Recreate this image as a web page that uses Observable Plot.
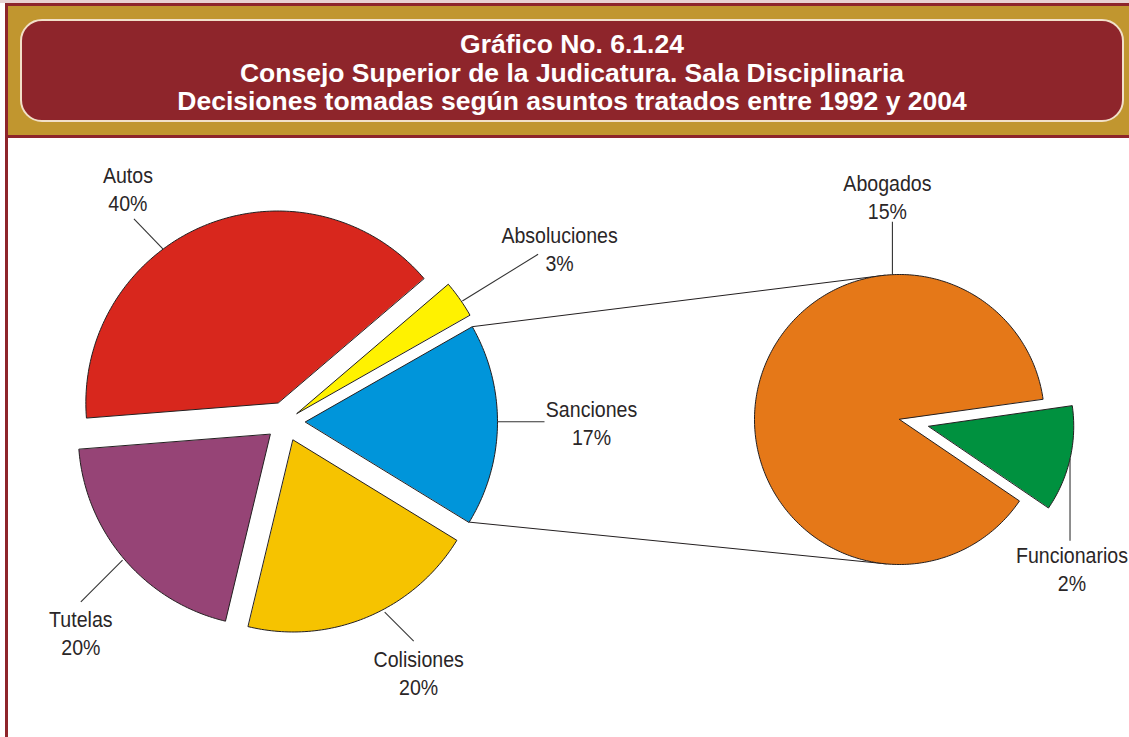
<!DOCTYPE html>
<html>
<head>
<meta charset="utf-8">
<script src="https://cdn.jsdelivr.net/npm/d3@7"></script>
<script src="https://cdn.jsdelivr.net/npm/@observablehq/plot@0.6"></script>
<style>
  html, body { margin: 0; padding: 0; background: #fff; }
  body { width: 1129px; height: 737px; position: relative; overflow: hidden; font-family: "Liberation Sans", Arial, sans-serif; }
  #topline { position: absolute; left: 0; top: 0; width: 1129px; height: 3px; background: #E8D2D2; }
  #header { position: absolute; left: 5px; top: 3px; width: 1124px; height: 135px; box-sizing: border-box;
            background: #C1962F; border-top: 3px solid #8E252B; border-left: 3px solid #8E252B; border-bottom: 3px solid #8E252B; }
  #titlebox { position: absolute; left: 12px; top: 13px; width: 1104px; height: 103px; box-sizing: border-box;
              background: #8E252B; border: 2px solid #F2E0C8; border-radius: 22px;
              color: #fff; font-weight: bold; font-size: 26.5px; line-height: 28.5px; text-align: center; padding-top: 9px; }
  #leftline { position: absolute; left: 5px; top: 138px; width: 3px; height: 599px; background: #8E252B; }
  #chart { position: absolute; left: 0; top: 138px; }
</style>
</head>
<body>
<div id="topline"></div>
<div id="header"><div id="titlebox">Gráfico No. 6.1.24<br>Consejo Superior de la Judicatura. Sala Disciplinaria<br>Decisiones tomadas según asuntos tratados entre 1992 y 2004</div></div>
<div id="leftline"></div>
<div id="chart"></div>
<script>
// ---- data ----
const leftNames = ["Autos", "Absoluciones", "Sanciones", "Colisiones", "Tutelas"];
const leftValues = [40, 3, 17, 20, 20];
const rightNames = ["Abogados", "Funcionarios"];
const rightValues = [15, 2];

// ---- styles ----
const leftColors = ["#D8271D", "#FFF200", "#0095DA", "#F6C300", "#964476"];
const rightColors = ["#E57818", "#00913F"];

// ---- layout (page pixel units) ----
const W = 1129, H = 599, TOP = 138;
const leftPie = {cx: 285, cy: 421, r: 192, start: 265.5, explode: [20, 14, 20, 20, 20], rExtra: [0, 7, 0, 0, 0]};
const rightPie = {cx: 899, cy: 419, r: 145, focus: 103, explode: [0, 30], rExtra: [0, 0]};
// leader: angle on arc, direction, length, label offset from leader end
const leftLeaders = [
  {at: 323.3, dir: 316, len: 42, dx: -6, dy: -30.5, rr: 0},
  {at: 55.8, dir: 58.3, len: 89, dx: 21.5, dy: -6, rr: 1},
  {at: 90, dir: 90, len: 47, dx: 47, dy: 0.5, rr: 0},
  {at: 152, dir: 135, len: 41, dx: 5, dy: 30.5, rr: 3},
  {at: 229.6, dir: 225, len: 59, dx: 0, dy: 30.5, rr: 2}
];
const rightLeaders = [
  {at: 357.2, dir: 0, len: 53, dx: -5, dy: -25.5, rr: 0},
  {at: 103, dir: 180, len: 82, dx: 2, dy: 27.5, rr: 0}
];
const connectorAngles = [354.4, 185];

const rad = d => d * Math.PI / 180;
const pt = (cx, cy, r, deg) => [cx + r * Math.sin(rad(deg)), cy - r * Math.cos(rad(deg))];

function buildPie(names, values, pie, startDeg) {
  const arcs = d3.pie().sort(null).startAngle(rad(startDeg)).endAngle(rad(startDeg + 360))(values);
  return arcs.map((a, i) => {
    const a0 = a.startAngle * 180 / Math.PI, a1 = a.endAngle * 180 / Math.PI;
    const mid = (a0 + a1) / 2;
    const [ox, oy] = pt(pie.cx, pie.cy, pie.explode[i], mid);
    const r = pie.r + pie.rExtra[i];
    const pts = [{name: names[i], x: ox, y: oy}];
    const n = Math.max(2, Math.ceil(a1 - a0));
    for (let k = 0; k <= n; k++) {
      const [x, y] = pt(ox, oy, r, a0 + (a1 - a0) * k / n);
      pts.push({name: names[i], x, y});
    }
    return {name: names[i], value: values[i], a0, a1, ox, oy, r, pts};
  });
}

const leftSlices = buildPie(leftNames, leftValues, leftPie, leftPie.start);
const rightTotal = d3.sum(rightValues);
const rightStart = rightPie.focus - 360 * (rightValues[0] + rightValues[1] / 2) / rightTotal;
const rightSlices = buildPie(rightNames, rightValues, rightPie, rightStart);

const polyPoints = [...leftSlices, ...rightSlices].flatMap(s => s.pts);

function leaders(slices, specs) {
  return slices.map((s, i) => {
    const L = specs[i];
    const [x1, y1] = pt(s.ox, s.oy, s.r + L.rr, L.at);
    const [x2, y2] = pt(x1, y1, L.len, L.dir);
    return {x1, y1, x2, y2, lx: x2 + L.dx, ly: y2 + L.dy, text: s.name + "\n" + s.value + "%"};
  });
}
const leaderData = [...leaders(leftSlices, leftLeaders), ...leaders(rightSlices, rightLeaders)];

const sanc = leftSlices[2];
const connectors = [
  {p: pt(sanc.ox, sanc.oy, sanc.r, sanc.a0), q: pt(rightPie.cx, rightPie.cy, rightPie.r, connectorAngles[0])},
  {p: pt(sanc.ox, sanc.oy, sanc.r, sanc.a1), q: pt(rightPie.cx, rightPie.cy, rightPie.r, connectorAngles[1])}
].map(c => ({x1: c.p[0], y1: c.p[1], x2: c.q[0], y2: c.q[1]}));

const chart = Plot.plot({
  width: W, height: H,
  margin: 0,
  style: {background: "transparent", overflow: "visible"},
  x: {domain: [0, W], range: [0, W], axis: null},
  y: {domain: [TOP, TOP + H], range: [0, H], axis: null},
  color: {domain: [...leftNames, ...rightNames], range: [...leftColors, ...rightColors]},
  marks: [
    Plot.link(connectors, {x1: "x1", y1: "y1", x2: "x2", y2: "y2", stroke: "#231F20", strokeWidth: 1}),
    Plot.line(polyPoints, {x: "x", y: "y", z: "name", fill: "name", stroke: "#231F20", strokeWidth: 1, curve: "linear-closed", strokeLinejoin: "miter"}),
    Plot.link(leaderData, {x1: "x1", y1: "y1", x2: "x2", y2: "y2", stroke: "#333", strokeWidth: 1.1}),
    Plot.text(leaderData, {x: "lx", y: "ly", text: "text", fontSize: 22, lineHeight: 1.27, lineAnchor: "middle", textAnchor: "middle", fill: "#2A2627", fontFamily: "Liberation Sans, Arial, sans-serif"})
  ]
});
document.getElementById("chart").appendChild(chart);
// condense label glyphs horizontally (narrow Helvetica look)
d3.select(chart).selectAll("g[aria-label=text] text").attr("transform", function() {
  return (this.getAttribute("transform") || "") + " scale(0.89,1)";
});
</script>
</body>
</html>
